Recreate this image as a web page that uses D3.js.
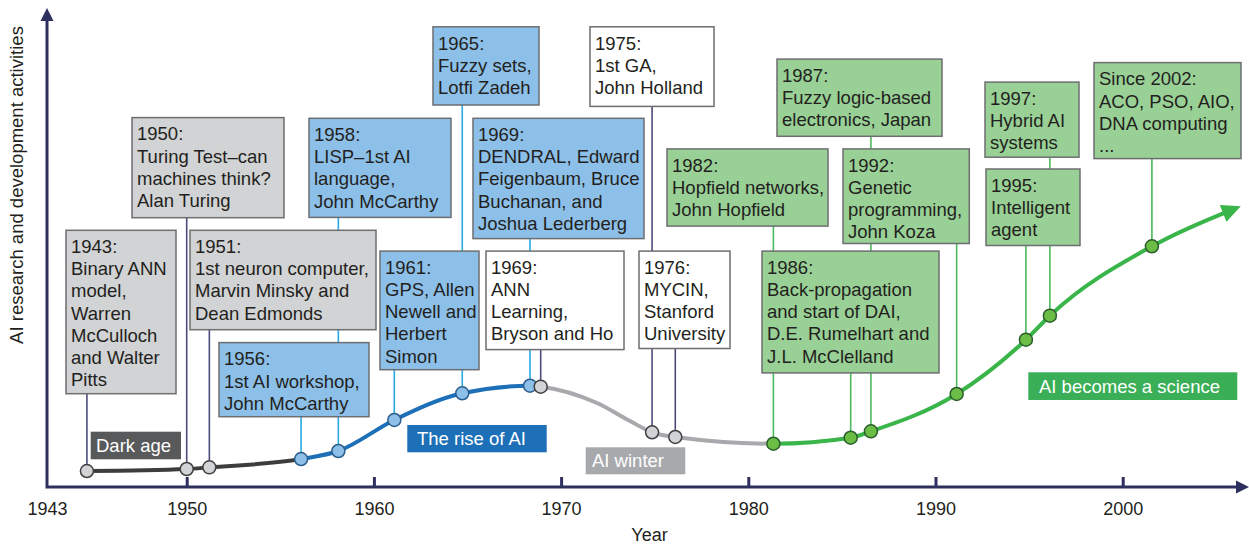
<!DOCTYPE html>
<html><head><meta charset="utf-8">
<script src="https://cdn.jsdelivr.net/npm/d3@7"></script>
<style>
body{margin:0;background:#fff}
svg{display:block}
text{font-family:"Liberation Sans", Arial, Helvetica, sans-serif;fill:#231f20}
</style>
</head><body>
<svg id="c" width="1249" height="545"></svg>
<script>
// ---------------- DATA ----------------
const xTickValues = [1943, 1950, 1960, 1970, 1980, 1990, 2000];
const xTickLabels = ["1943", "1950", "1960", "1970", "1980", "1990", "2000"];
const xAxisTitle = "Year";
const yAxisTitle = "AI research and development activities";

// era names and where each coloured stretch of the curve starts (year)
const eraNames = ["Dark age", "The rise of AI", "AI winter", "AI becomes a science"];
const eraStartYears = [1943, 1956.11, 1968.63, 1981.34];

// activity curve (year, relative activity 0-100)
const curveYears  = [1945.0, 1950.0, 1951.21, 1956.11, 1958.10, 1961.09, 1964.72, 1968.34, 1968.91, 1971.92, 1973.68, 1974.86, 1976.10, 1981.34, 1985.47, 1986.55, 1991.13, 1994.83, 1996.11, 2001.56, 2006.26];
const curveValues = [3.33, 3.75, 4.10, 5.83, 7.50, 13.96, 19.52, 21.10, 20.90, 17.50, 13.75, 11.40, 10.42, 9.02, 10.27, 11.60, 19.38, 30.69, 35.69, 50.15, 58.40];

// milestones
const eventText = [
  ["1943:", "Binary ANN", "model,", "Warren", "McCulloch", "and Walter", "Pitts"],
  ["1950:", "Turing Test\u2013can", "machines think?", "Alan Turing"],
  ["1951:", "1st neuron computer,", "Marvin Minsky and", "Dean Edmonds"],
  ["1956:", "1st AI workshop,", "John McCarthy"],
  ["1958:", "LISP\u20131st AI", "language,", "John McCarthy"],
  ["1961:", "GPS, Allen", "Newell and", "Herbert", "Simon"],
  ["1965:", "Fuzzy sets,", "Lotfi Zadeh"],
  ["1969:", "DENDRAL, Edward", "Feigenbaum, Bruce", "Buchanan, and", "Joshua Lederberg"],
  ["1969:", "ANN", "Learning,", "Bryson and Ho"],
  ["1975:", "1st GA,", "John Holland"],
  ["1976:", "MYCIN,", "Stanford", "University"],
  ["1982:", "Hopfield networks,", "John Hopfield"],
  ["1986:", "Back-propagation", "and start of DAI,", "D.E. Rumelhart and", "J.L. McClelland"],
  ["1987:", "Fuzzy logic-based", "electronics, Japan"],
  ["1992:", "Genetic", "programming,", "John Koza"],
  ["1995:", "Intelligent", "agent"],
  ["1997:", "Hybrid AI", "systems"],
  ["Since 2002:", "ACO, PSO, AIO,", "DNA computing", "..."]
];
const eventKind  = ["dark","dark","dark","rise","rise","rise","rise","rise","winter","winter","winter","sci","sci","sci","sci","sci","sci","sci"];
const eventYears = [1945.0, 1950.0, 1951.21, 1956.11, 1958.10, 1961.09, 1964.72, 1968.34, 1968.91, 1974.86, 1976.10, 1981.34, 1985.47, 1986.55, 1991.13, 1994.83, 1996.11, 2001.56];
const eventValues = [3.33, 3.75, 4.10, 5.83, 7.50, 13.96, 19.52, 21.10, 20.90, 11.40, 10.42, 9.02, 10.27, 11.60, 19.38, 30.69, 35.69, 50.15];

// ---------------- LAYOUT / STYLE ----------------
// annotation box layout [left, top, right, bottom] in px, same order as eventText
const boxLayout = [
  [66, 230.3, 176, 393.7], [132, 117.6, 284, 217.7], [190, 230.3, 376, 329.7], [219, 342.6, 369, 416.7],
  [309, 118.3, 451, 217.4], [380, 251.1, 479, 369.7], [433, 26.8, 539, 105], [473, 118.3, 644, 238.6],
  [486, 251.1, 624, 349.6], [590, 26.8, 714, 106.4], [639, 251.1, 730, 348.5], [667, 148.9, 828, 226.1],
  [762, 251.1, 939, 372.9], [777, 59.1, 942, 136.3], [843, 148.9, 969.3, 243.5], [986, 169, 1080, 245.5],
  [985, 82.1, 1079, 157.2], [1094, 62.6, 1241, 158.6]
];
const boxFill = {dark:"#d1d3d4", rise:"#8dc0e9", winter:"#ffffff", sci:"#99d096"};
const connColor = {dark:"#4a4b7c", rise:"#27aae1", winter:"#4a4b7c", sci:"#4cb85c"};
const ptFill = {dark:"#d1d3d4", rise:"#8dc0e9", winter:"#d1d3d4", sci:"#6abd45"};
const ptStroke = {dark:"#414042", rise:"#2b5d8c", winter:"#414042", sci:"#2d5e2d"};
const eraLineColor = ["#3d3d3f", "#1d70b7", "#a7a9ac", "#39b54a"];
const eraBoxFill = ["#58595b", "#1d70b7", "#a7a9ac", "#3aaf57"];
const eraBoxLayout = [[90.7, 431.7, 181, 459.3], [407.3, 425, 546.7, 452.3], [585.7, 447.3, 685.3, 474.3], [1028.3, 372.3, 1237.3, 400]];
const eraTextPos = [[96, 452], [417, 445], [592, 467], [1039, 392.5]];
const navy = "#2d2f5f";

// ---------------- DRAW ----------------
const W = 1249, H = 545;
const svg = d3.select("#c");
const x = d3.scaleLinear().domain([1943, 1950, 2000]).range([47, 186.7, 1122.7]);
const y = d3.scaleLinear().domain([0, 100]).range([487, 7]);

// connectors (behind boxes)
svg.append("g").selectAll("line").data(eventYears).join("line")
  .attr("x1", d => x(d)).attr("x2", d => x(d))
  .attr("y1", (d, i) => boxLayout[i][3])
  .attr("y2", (d, i) => y(eventValues[i]))
  .attr("stroke", (d, i) => connColor[eventKind[i]])
  .attr("stroke-width", 1.6);

// boxes
const bg = svg.append("g");
eventText.forEach((lines, i) => {
  const b = boxLayout[i];
  const g = bg.append("g");
  g.append("rect").attr("x", b[0]).attr("y", b[1]).attr("width", b[2] - b[0]).attr("height", b[3] - b[1])
    .attr("fill", boxFill[eventKind[i]]).attr("stroke", "#6d6e71").attr("stroke-width", 1.5);
  lines.forEach((t, j) => {
    g.append("text").attr("x", b[0] + 5).attr("y", b[1] + 22.7 + j * 22.2)
      .attr("font-size", 18.5).text(t);
  });
});

// era labels
eraNames.forEach((n, i) => {
  const b = eraBoxLayout[i];
  svg.append("rect").attr("x", b[0]).attr("y", b[1]).attr("width", b[2] - b[0]).attr("height", b[3] - b[1])
    .attr("fill", eraBoxFill[i]);
  svg.append("text").attr("x", eraTextPos[i][0]).attr("y", eraTextPos[i][1])
    .attr("font-size", 18.5).style("fill", "#fff").text(n);
});

// axes
svg.append("path").attr("d", `M47,21 V487 H1237`).attr("fill", "none")
  .attr("stroke", navy).attr("stroke-width", 3).attr("stroke-linejoin", "miter");
svg.append("path").attr("d", "M40.5,21 L47,8 L53.5,21 Z").attr("fill", navy);
svg.append("path").attr("d", "M1236,480.5 L1249,487 L1236,493.5 Z").attr("fill", navy);

const ax = d3.axisBottom(x).tickValues(xTickValues)
  .tickFormat((d, i) => xTickLabels[i]).tickSizeInner(-10).tickSizeOuter(0).tickPadding(14);
const axg = svg.append("g").attr("transform", "translate(0,487)").call(ax);
axg.select(".domain").remove();
axg.attr("font-size", null).attr("font-family", null);
axg.selectAll(".tick line").attr("stroke", navy).attr("stroke-width", 3)
  .attr("display", d => d === 1943 ? "none" : null);
axg.selectAll(".tick text").attr("dy", null).attr("y", 28)
  .attr("font-size", 18).style("fill", "#231f20");

svg.append("text").attr("x", 649.5).attr("y", 541).attr("text-anchor", "middle")
  .attr("font-size", 18).text(xAxisTitle);
svg.append("text").attr("transform", "translate(23,185) rotate(-90)").attr("text-anchor", "middle")
  .attr("font-size", 18.5).text(yAxisTitle);

// curve
const pts = curveYears.map((d, i) => [x(d), y(curveValues[i])]);
const lineGen = d3.line().curve(d3.curveMonotoneX);
const dStr = lineGen(pts);
const defs = svg.append("defs");
const bounds = eraStartYears.map(d => x(d)).concat([W]);
bounds[0] = 0;
const tmp = svg.append("path").attr("d", dStr).attr("fill", "none");
const L = tmp.node().getTotalLength();
const pEnd = tmp.node().getPointAtLength(L);
const pPrev = tmp.node().getPointAtLength(L - 10);
tmp.remove();
eraNames.forEach((n, i) => {
  defs.append("clipPath").attr("id", "clip" + i).append("rect")
    .attr("x", bounds[i]).attr("y", 0).attr("width", bounds[i + 1] - bounds[i]).attr("height", H);
  svg.append("path").attr("d", dStr).attr("fill", "none")
    .attr("stroke", eraLineColor[i]).attr("stroke-width", 4)
    .attr("stroke-dasharray", `${L - 10} ${L}`)
    .attr("clip-path", `url(#clip${i})`);
});
// arrow head
const ang = Math.atan2(pEnd.y - pPrev.y, pEnd.x - pPrev.x);
const ux = Math.cos(ang), uy = Math.sin(ang);
const tip = [pEnd.x + ux * 1, pEnd.y + uy * 1];
const base = [tip[0] - ux * 19, tip[1] - uy * 19];
const hw = 9;
svg.append("path").attr("d",
  `M${tip[0]},${tip[1]} L${base[0] - uy * hw},${base[1] + ux * hw} L${base[0] + uy * hw},${base[1] - ux * hw} Z`)
  .attr("fill", eraLineColor[3]);

// points
svg.append("g").selectAll("circle").data(eventYears).join("circle")
  .attr("cx", d => x(d)).attr("cy", (d, i) => y(eventValues[i])).attr("r", 6.5)
  .attr("fill", (d, i) => ptFill[eventKind[i]])
  .attr("stroke", (d, i) => ptStroke[eventKind[i]]).attr("stroke-width", 1.5);
</script>
</body></html>
